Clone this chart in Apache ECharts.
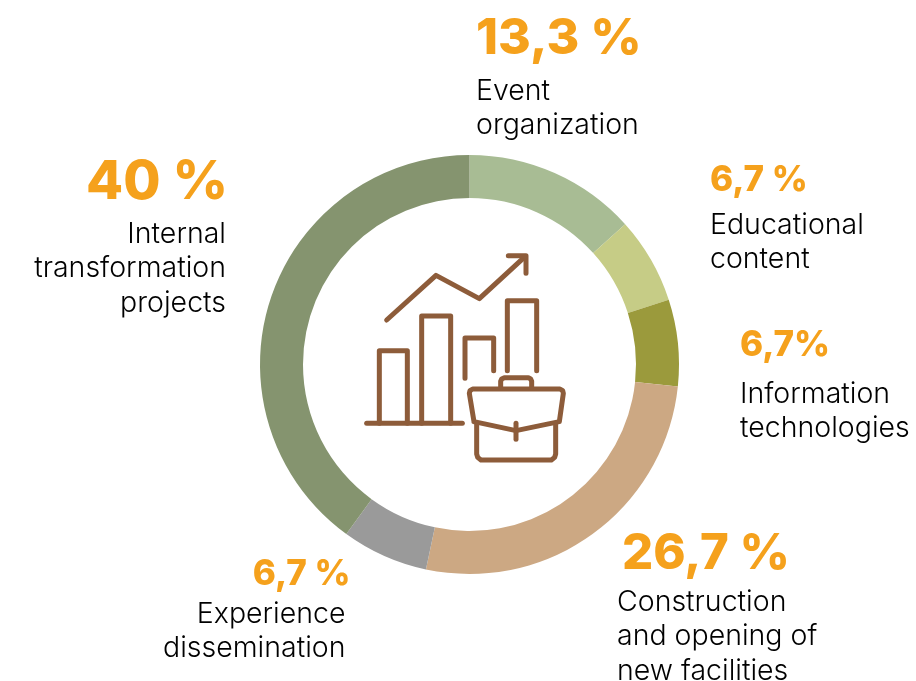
<!DOCTYPE html>
<html><head><meta charset="utf-8">
<style>html,body{margin:0;padding:0;background:#fff}#c{width:916px;height:681px}</style>
<script src="https://cdn.jsdelivr.net/npm/echarts@6/dist/echarts.min.js"></script>
</head><body><div id="c"></div>
<script>
const categories = [['Event','organization'],['Educational','content'],['Information','technologies'],['Construction','and opening of','new facilities'],['Experience','dissemination'],['Internal','transformation','projects']];
const values = [13.33,6.67,6.67,26.67,6.67,40];
const valueLabels = ['13,3 %','6,7 %','6,7%','26,7 %','6,7 %','40 %'];
const colors = ['#a8bc94','#c6cc86','#9b9a3c','#cca883','#9a9a9a','#85946f'];
const labelBoxes = [
 {x:476,y:3,align:'left',size:50,lh:71},
 {x:710,y:153,align:'left',size:35,lh:55},
 {x:740,y:314,align:'left',size:35,lh:63},
 {x:617,y:524,align:'left',size:49,lh:61,vpadL:5},
 {x:350.5,y:552,align:'right',size:35,lh:45,npadR:5},
 {x:228,y:148,align:'right',size:54,lh:69,npadR:2}
];
const FONT='Inter';
const chart = echarts.init(document.getElementById('c'),null,{renderer:'canvas'});
const icon = [
 [[110,240],[258,106],[388,176],[525,50]],
 [[475,47],[528,47],[528,100]],
 [[88,550],[88,332],[172,332],[172,550]],
 [[215,550],[215,228],[302,228],[302,550]],
 [[345,415],[345,294],[431,294],[431,392]],
 [[472,392],[472,182],[560,182],[560,392]],
 [[50,550],[337,550]],
 [[452,442],[452,424],[455,417],[463,413],[535,413],[542,417],[545,424],[545,442]],
 [[372,545],[358,460],[360,452],[368,447],[630,447],[638,452],[640,460],[628,545],[498,572],[372,545]],
 [[498,550],[498,598]],
 [[380,552],[380,642],[383,652],[393,660],[604,660],[614,652],[617,642],[617,552]]
];
chart.setOption({
 animation:false,
 backgroundColor:'#fff',
 series:[{
  type:'pie',silent:true,
  center:[469.5,364.5],radius:[166.5,209.5],startAngle:90,clockwise:true,
  avoidLabelOverlap:false,
  itemStyle:{borderWidth:0},
  labelLine:{show:false},
  data:values.map((v,i)=>({
    value:v,name:categories[i].join(' '),
    itemStyle:{color:colors[i]},
    label:{
      show:true,position:'outside',
      formatter:'{v|'+valueLabels[i]+'}\n'+categories[i].map(t=>'{n|'+t+'}').join('\n'),
      rich:{
        v:{fontFamily:FONT,fontWeight:800,fontSize:labelBoxes[i].size,color:'#f5a11c',lineHeight:labelBoxes[i].lh,padding:[0,0,0,labelBoxes[i].vpadL||0]},
        n:{fontFamily:FONT,fontWeight:300,fontSize:28.5,color:'#000',lineHeight:34.5,padding:[0,labelBoxes[i].npadR||0,0,0]}
      }
    }
  })),
  labelLayout:function(p){const b=labelBoxes[p.dataIndex];return {x:b.x,y:b.y,align:b.align,verticalAlign:'top',hideOverlap:false};}
 }],
 graphic:icon.map(pts=>({
   type:'polyline',silent:true,
   shape:{points:pts.map(q=>[q[0]/3+350,q[1]/3+240])},
   style:{stroke:'#8d5c3a',lineWidth:5,fill:null,lineCap:'round',lineJoin:'round'}
 }))
});
</script></body></html>
